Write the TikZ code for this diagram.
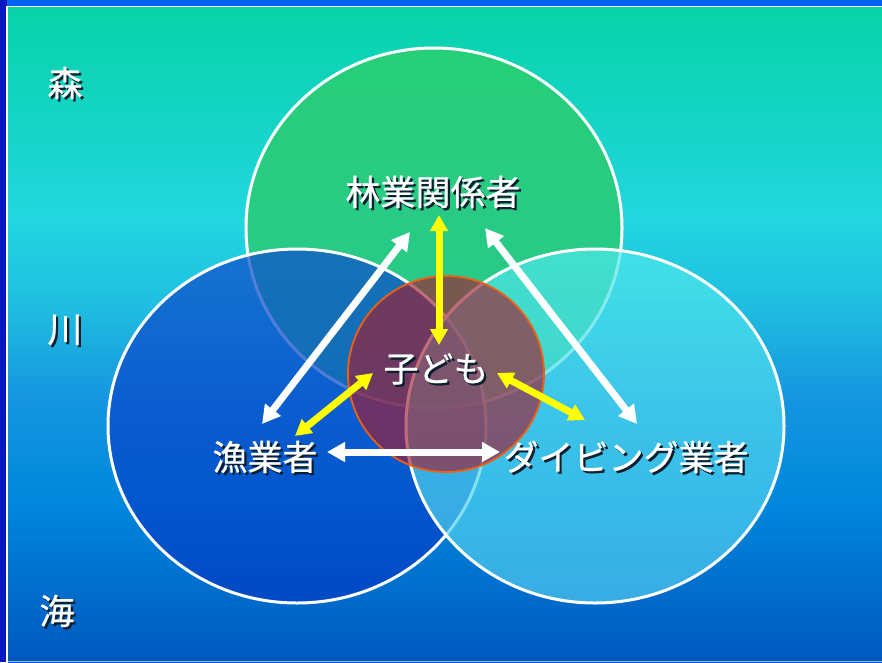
\documentclass[tikz,border=0pt]{standalone}
\usepackage{fontspec}
\setmainfont{Noto Sans CJK JP}[FakeBold=0.6]
\usetikzlibrary{arrows.meta}
\definecolor{bgA}{HTML}{07D3A8}
\definecolor{bgB}{HTML}{22D6E0}
\definecolor{bgC}{HTML}{20C0E0}
\definecolor{bgD}{HTML}{1595E0}
\definecolor{bgE}{HTML}{0088DC}
\definecolor{bgF}{HTML}{0058C0}
\definecolor{grTop}{HTML}{26CE78}
\definecolor{grBot}{HTML}{2AC890}
\definecolor{blTop}{HTML}{1050CC}
\definecolor{blBot}{HTML}{003EC5}
\definecolor{cyTop}{HTML}{4EE9EB}
\definecolor{cyBot}{HTML}{50C8EF}
\definecolor{kidFill}{HTML}{A01E32}
\definecolor{kidLine}{HTML}{F06010}
\definecolor{shadowC}{HTML}{0A2030}
\definecolor{arrY}{HTML}{FFFF00}
\definecolor{frameTop}{HTML}{0060F0}
\definecolor{frameLeft}{HTML}{0818C0}
\pgfdeclareverticalshading{bgshade}{100bp}{color(0bp)=(bgF); color(25bp)=(bgF); color(37.4bp)=(bgE); color(45bp)=(bgD); color(52.7bp)=(bgC); color(58.8bp)=(bgB); color(75bp)=(bgA); color(100bp)=(bgA)}
\newcommand{\shtxt}[1]{\makebox[0pt][l]{\hspace{2.2pt}\raisebox{-2.2pt}{\color{shadowC}#1}}#1}
\tikzset{
  lbl/.style={text=white, font=\fontsize{35}{40}\selectfont, inner sep=0pt},
  venn/.style={draw=white, line width=3pt},
  warrow/.style={draw=white, line width=7pt, {Triangle[length=18pt,width=19pt]}-{Triangle[length=18pt,width=19pt]}},
  yarrow/.style={draw=arrY, line width=7pt, {Triangle[length=16pt,width=17pt]}-{Triangle[length=16pt,width=17pt]}}
}
\begin{document}
\begin{tikzpicture}[x=1pt,y=-1pt]
\useasboundingbox (0,0) rectangle (882,662);
% frame
\fill[frameTop] (0,0) rectangle (882,6);
\fill[frameLeft] (0,0) rectangle (7,662);
\shade[shading=bgshade] (8,7) rectangle (882,662);
\draw[white, line width=1.5pt] (7,662) -- (7,6.5) -- (882,6.5);
\draw[white!60!bgF, line width=1pt] (8,661.5) -- (882,661.5);
% circles
\shade[top color=grTop, bottom color=grBot, venn] (434,228) ellipse [x radius=188, y radius=180];
\shade[top color=blTop, bottom color=blBot, fill opacity=0.72, venn] (297,426) ellipse [x radius=189, y radius=177];
\shade[top color=cyTop, bottom color=cyBot, fill opacity=0.7, venn] (595,426) ellipse [x radius=189, y radius=177];
\filldraw[fill=kidFill, fill opacity=0.65, draw=kidLine, line width=1.8pt] (446,374) circle [radius=98];
% labels
\node[lbl] (mori) at (65,84) {\shtxt{森}};
\node[lbl] (kawa) at (65,331) {\shtxt{川}};
\node[lbl] (umi) at (57,612) {\shtxt{海}};
\node[lbl] (ringyo) at (433,193) {\shtxt{林業関係者}};
\node[lbl] (kodomo) at (436,370) {\shtxt{子ども}};
\node[lbl] (gyogyo) at (265,458) {\shtxt{漁業者}};
\node[lbl] (diving) at (626,458) {\shtxt{ダイビング業者}};
% arrow end points
\coordinate (rL) at (410,232);
\coordinate (rR) at (485,228);
\coordinate (rC) at (439,215);
\coordinate (gU) at (262,424);
\coordinate (gR) at (327,452);
\coordinate (gY) at (295,436);
\coordinate (dU) at (637,424);
\coordinate (dL) at (500,452);
\coordinate (dY) at (585,420);
\coordinate (kT) at (439,345);
\coordinate (kL) at (373,373);
\coordinate (kR) at (497,373);
% arrows
\draw[warrow] (rL) -- (gU);
\draw[warrow] (rR) -- (dU);
\draw[warrow] (gR) -- (dL);
\draw[yarrow] (rC) -- (kT);
\draw[yarrow] (kL) -- (gY);
\draw[yarrow] (kR) -- (dY);
\end{tikzpicture}
\end{document}
